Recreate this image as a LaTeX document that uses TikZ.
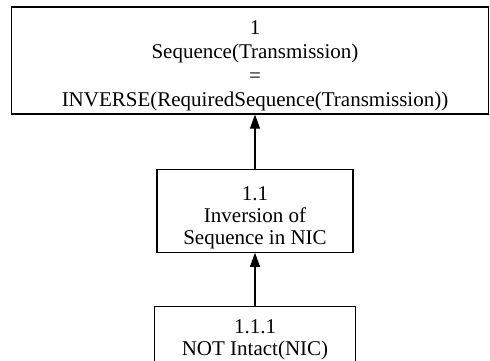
\documentclass[tikz,border=0pt]{standalone}
\usepackage{fontspec}
\setmainfont{Liberation Serif}
\usepackage{tikz}
\usetikzlibrary{arrows.meta, positioning}

\begin{document}
\begin{tikzpicture}[
  x=1pt, y=1pt,
  box/.style={draw, line width=1.2pt, inner sep=0pt},
  boxtext/.style={inner sep=0pt, align=center, font=\fontsize{21}{22}\selectfont},
  arr/.style={-{Triangle[length=14pt, width=10pt]}, line width=1.1pt}
]
\useasboundingbox (0,0) rectangle (490,-361);
\node[box, minimum width=477pt, minimum height=107pt,
  label={[boxtext, name=goaltext, font=\fontsize{21}{24}\selectfont, xshift=5pt, yshift=-5.5pt]center:{1\\Sequence(Transmission)\\=\\INVERSE(RequiredSequence(Transmission))}}] (goal) at (250,-60.5) {};

\node[box, minimum width=196pt, minimum height=83pt, below=54pt of goal, xshift=5pt,
  label={[boxtext, name=inversiontext, yshift=-7pt]center:{1.1\\Inversion of\\Sequence in NIC}}] (inversion) {};

\node[box, minimum width=201pt, minimum height=62pt, below=53pt of inversion,
  label={[boxtext, name=intacttext, yshift=-2.5pt]center:{1.1.1\\NOT Intact(NIC)}}] (intact) {};

\draw[arr] (inversion) -- (inversion |- goal.south);
\draw[arr] (intact) -- (inversion);
\end{tikzpicture}
\end{document}
